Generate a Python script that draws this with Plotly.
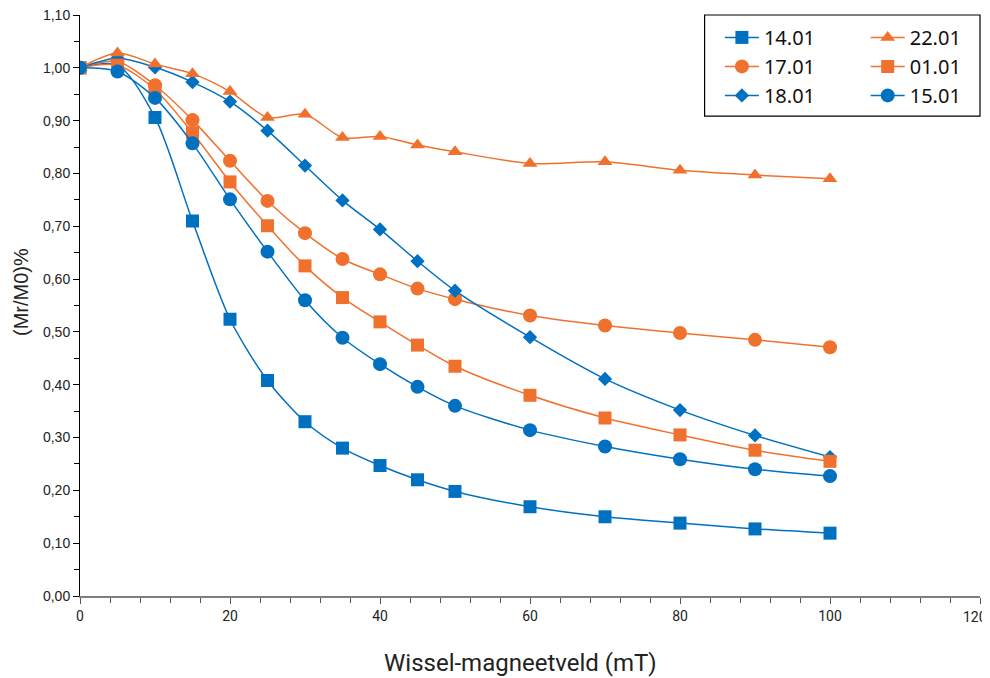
import plotly.graph_objects as go

x_field = [0, 5, 10, 15, 20, 25, 30, 35, 40, 45, 50, 60, 70, 80, 90, 100]

s_1401 = [1.000, 1.005, 0.906, 0.710, 0.524, 0.408, 0.330, 0.280, 0.247, 0.220, 0.198, 0.169, 0.150, 0.138, 0.127, 0.119]
s_2201 = [1.000, 1.028, 1.007, 0.989, 0.955, 0.906, 0.912, 0.868, 0.870, 0.854, 0.841, 0.819, 0.822, 0.806, 0.797, 0.790]
s_1701 = [1.000, 1.012, 0.967, 0.901, 0.824, 0.748, 0.687, 0.638, 0.609, 0.582, 0.562, 0.531, 0.512, 0.498, 0.485, 0.471]
s_0101 = [1.000, 1.005, 0.959, 0.877, 0.784, 0.701, 0.625, 0.565, 0.519, 0.475, 0.435, 0.380, 0.337, 0.305, 0.276, 0.255]
s_1801 = [1.000, 1.018, 1.001, 0.973, 0.936, 0.881, 0.815, 0.749, 0.694, 0.634, 0.578, 0.490, 0.411, 0.352, 0.304, 0.263]
s_1501 = [1.000, 0.993, 0.943, 0.857, 0.751, 0.652, 0.560, 0.489, 0.439, 0.396, 0.360, 0.314, 0.283, 0.259, 0.240, 0.227]

x_tickvals = [0, 20, 40, 60, 80, 100, 120]
x_ticktext = ["0", "20", "40", "60", "80", "100", "120"]

names = ["14.01", "17.01", "18.01", "22.01", "01.01", "15.01"]
series = [s_1401, s_1701, s_1801, s_2201, s_0101, s_1501]
legend_ids = ["legend", "legend", "legend", "legend2", "legend2", "legend2"]

BLUE = "#0070C0"
ORANGE = "#F0712D"
styles = {
    "14.01": (BLUE, "square", 13),
    "22.01": (ORANGE, "triangle-up", 13),
    "17.01": (ORANGE, "circle", 14),
    "01.01": (ORANGE, "square", 13),
    "18.01": (BLUE, "diamond", 11),
    "15.01": (BLUE, "circle", 14),
}

fig = go.Figure()
for name, ys, lg in zip(names, series, legend_ids):
    color, sym, size = styles[name]
    fig.add_trace(go.Scatter(
        x=x_field, y=ys, name=name, mode="lines+markers", legend=lg,
        line=dict(color=color, width=1.5, shape="spline", smoothing=0.8),
        marker=dict(symbol=sym, size=size, color=color, line=dict(width=0)),
    ))

leg_font = dict(family="Noto Sans, Roboto, sans-serif", size=20, color="#111111")
common_leg = dict(orientation="v", yanchor="top", xanchor="left", font=leg_font,
                  bgcolor="rgba(0,0,0,0)", borderwidth=0, tracegroupgap=0,
                  itemwidth=34)

TITLE_FONT = "Roboto, sans-serif"
TICK_FONT = dict(family=TITLE_FONT, size=14, color="#222222")

PW = 900.0  # plot area width in px
PH = 581.0  # plot area height in px

# the last x tick label is right-aligned so it stays inside the page
shown_text = x_ticktext[:-1] + [""]
last_label = dict(text=x_ticktext[-1], xref="x", yref="paper", x=x_tickvals[-1],
                  y=-21 / PH, xanchor="right", yanchor="middle", xshift=9,
                  showarrow=False, font=TICK_FONT)

# page body has an 8px margin, so the figure is drawn 8px smaller / shifted
fig.update_layout(
    width=982, height=670,
    margin=dict(l=72, r=10, t=7, b=82),
    paper_bgcolor="white", plot_bgcolor="white",
    separators=",.",
    showlegend=True,
    legend=dict(x=0.711, y=0.995, **common_leg),
    legend2=dict(x=0.873, y=0.995, **common_leg),
    shapes=[dict(type="rect", xref="paper", yref="paper",
                 x0=0.694, x1=1.0, y0=0.826, y1=1.0,
                 line=dict(color="black", width=1.2), fillcolor="rgba(0,0,0,0)",
                 layer="above")],
    annotations=[
        dict(text="Wissel-magneetveld (mT)", xref="paper", yref="paper",
             x=440 / PW, y=-67 / PH, xanchor="center", yanchor="middle",
             showarrow=False, font=dict(family=TITLE_FONT, size=24, color="#222222")),
        dict(text="(Mr/M0)%", xref="paper", yref="paper", textangle=-90,
             x=-59 / PW, y=304 / PH, xanchor="center", yanchor="middle",
             showarrow=False, font=dict(family="Liberation Sans, Arial, sans-serif", size=20, color="#222222")),
        last_label,
    ],
    xaxis=dict(
        range=[0, 120], tickmode="array", tickvals=x_tickvals, ticktext=shown_text,
        automargin=False,
        showgrid=False, zeroline=False,
        showline=True, linecolor="#808080", linewidth=1.5,
        ticks="outside", ticklen=6, tickcolor="#555555",
        minor=dict(tick0=0, dtick=4, ticks="outside", ticklen=5, tickcolor="#555555"),
        tickfont=TICK_FONT,
        ticklabeloverflow="allow",
    ),
    yaxis=dict(
        range=[0, 1.1], dtick=0.1, tick0=0, tickformat=".2f", automargin=False,
        showgrid=False, zeroline=False,
        showline=True, linecolor="black", linewidth=1,
        ticks="outside", ticklen=6, tickcolor="black",
        minor=dict(dtick=0.05, ticks="outside", ticklen=5, tickcolor="black"),
        tickfont=dict(family="Liberation Sans, Arial, sans-serif", size=14, color="#222222"),
        ticklabeloverflow="allow",
    ),
)

fig.write_html("out.html")
